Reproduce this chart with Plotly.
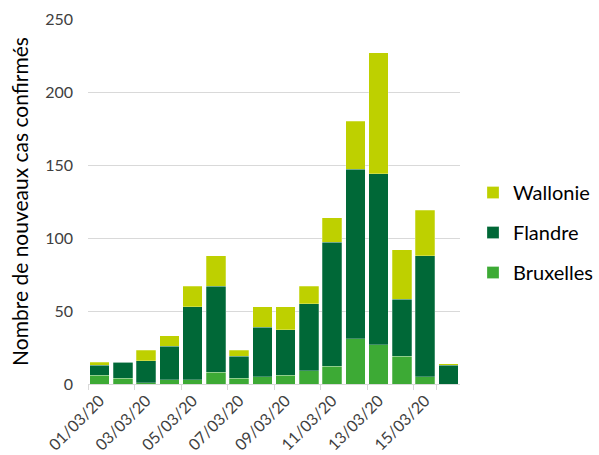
import plotly.graph_objects as go

dates = ["01/03/20", "02/03/20", "03/03/20", "04/03/20", "05/03/20", "06/03/20",
         "07/03/20", "08/03/20", "09/03/20", "10/03/20", "11/03/20", "12/03/20",
         "13/03/20", "14/03/20", "15/03/20", "16/03/20"]
bruxelles = [6, 4, 1, 3, 3, 8, 4, 5, 6, 9, 12, 31, 27, 19, 5, 0]
flandre = [7, 11, 15, 23, 50, 59, 15, 34, 31, 46, 85, 116, 117, 39, 83, 13]
wallonie = [2, 0, 7, 7, 14, 21, 4, 14, 16, 12, 17, 33, 83, 34, 31, 1]
tick_labels = dates[::2]

font = "Lato, 'Open Sans', sans-serif"
line = dict(color="rgba(255,255,255,0.5)", width=0.5)
fig = go.Figure()
fig.add_bar(x=dates, y=bruxelles, name="Bruxelles", marker_color="#3daa35",
            marker_line=line, legendgroup="b", legendrank=3)
fig.add_bar(x=dates, y=flandre, name="Flandre", marker_color="#006837",
            marker_line=line, legendgroup="f", legendrank=2)
fig.add_bar(x=dates, y=wallonie, name="Wallonie", marker_color="#bed000",
            marker_line=line, legendgroup="w", legendrank=1)

fig.update_layout(
    barmode="stack", bargap=0.17,
    width=599, height=455,
    margin=dict(l=88, r=139, t=19, b=71, autoexpand=False),
    plot_bgcolor="white", paper_bgcolor="white",
    font=dict(family=font, color="#404040", size=14),
    legend=dict(x=1.035, y=0.415, yanchor="middle",
                traceorder="grouped",
                font=dict(size=20, color="#000000"), itemwidth=30,
                tracegroupgap=11),
    showlegend=True,
)
fig.update_xaxes(type="category", tickvals=tick_labels, ticktext=tick_labels,
                 tickson="boundaries", ticks="outside", ticklen=5,
                 tickcolor="#d9d9d9", showline=True, linecolor="#d9d9d9",
                 linewidth=1, tickangle=-45, showgrid=False, automargin=False,
                 tickfont=dict(size=16, color="#404040"))
fig.update_yaxes(range=[0, 250], dtick=50, showgrid=True, gridcolor="#d9d9d9",
                 zeroline=False, showline=False, ticklabelstandoff=14,
                 automargin=False,
                 tickfont=dict(size=16, color="#404040"),
                 title=dict(text="Nombre de nouveaux cas confirmés",
                            font=dict(size=21, color="#000000"), standoff=10))

fig.write_html("out.html", config={"displayModeBar": False},
               post_script="document.body.style.margin='0';document.body.style.overflow='hidden';")
